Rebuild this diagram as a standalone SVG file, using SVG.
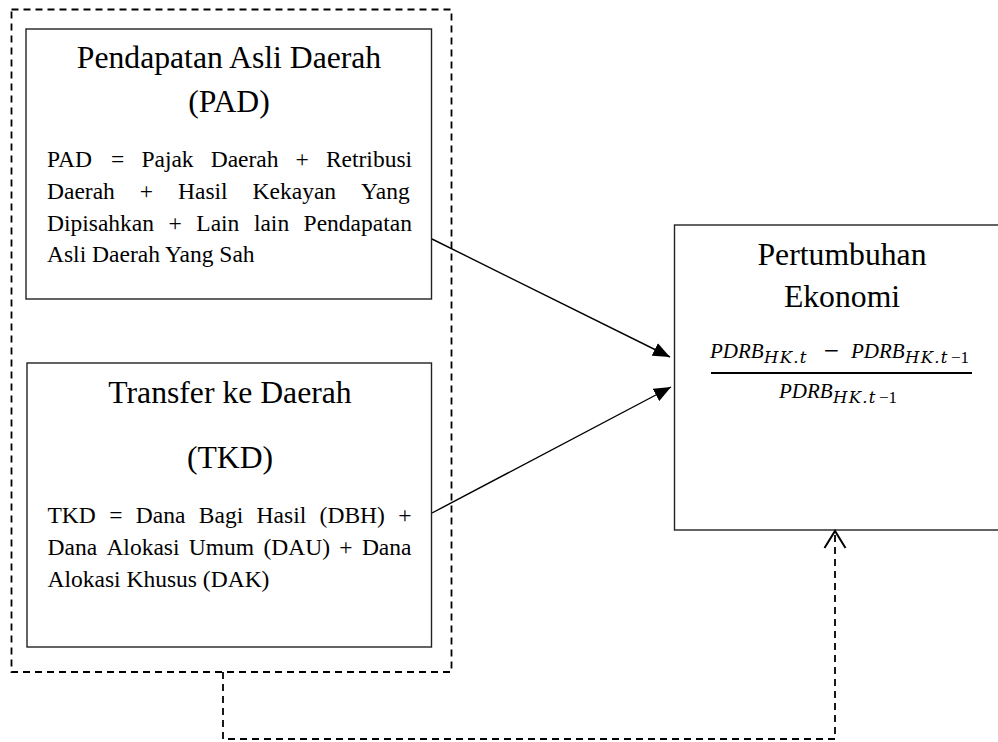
<svg xmlns="http://www.w3.org/2000/svg" width="998" height="742" viewBox="0 0 998 742">
<style>
  .box{fill:#fff;stroke:#222;stroke-width:1.4}
  .dash{fill:none;stroke:#000;stroke-width:1.8;stroke-dasharray:7 5}
  .title{font-family:"Liberation Serif","Times New Roman",serif;font-size:31.7px;fill:#000;text-anchor:middle}
  .body{font-family:"Liberation Serif","Times New Roman",serif;font-size:23.5px;fill:#000}
  .math{font-family:"Liberation Serif","Times New Roman",serif;fill:#000}
  .m{font-family:"Liberation Serif",serif;font-style:italic;font-size:21px}
  .ms{font-family:"DejaVu Serif",serif;font-style:italic;font-size:16.5px;letter-spacing:1.3px}
  .mu{font-family:"Liberation Serif",serif;font-style:normal;font-size:17px}
  .mm{font-family:"DejaVu Serif",serif;font-style:normal;font-size:20px}
  .arrow{fill:none;stroke:#000;stroke-width:1.4}
</style>
<defs>
  <marker id="solidHead" viewBox="0 0 17 14" refX="17" refY="7" markerWidth="17" markerHeight="14" markerUnits="userSpaceOnUse" orient="auto">
    <path d="M0,0 L17,7 L0,14 Z" fill="#000"/>
  </marker>
  <marker id="openHead" viewBox="-1 -1 20 24" refX="17" refY="10.5" markerWidth="20" markerHeight="24" markerUnits="userSpaceOnUse" orient="auto" overflow="visible">
    <path d="M0,0 L17,10.5 L0,21" fill="none" stroke="#000" stroke-width="2" stroke-dasharray="none"/>
  </marker>
</defs>

<rect id="outer-group" class="dash" x="11.5" y="9.5" width="440" height="662.5"/>

<g id="pad">
  <rect class="box" x="26" y="29" width="405.5" height="270"/>
  <text class="title" x="229" y="68">Pendapatan Asli Daerah</text>
  <text class="title" x="229" y="112">(PAD)</text>
  <text class="body" y="167"><tspan x="47">PAD</tspan><tspan x="111.1">=</tspan><tspan x="141.4">Pajak</tspan><tspan x="210.7">Daerah</tspan><tspan x="295.6">+</tspan><tspan x="325.9">Retribusi</tspan></text>
  <text class="body" y="199"><tspan x="47">Daerah</tspan><tspan x="139.8">+</tspan><tspan x="178">Hasil</tspan><tspan x="252.6">Kekayan</tspan><tspan x="361.1">Yang</tspan></text>
  <text class="body" y="230.5"><tspan x="47">Dipisahkan</tspan><tspan x="168.5">+</tspan><tspan x="196.3">Lain</tspan><tspan x="253.9">lain</tspan><tspan x="303.6">Pendapatan</tspan></text>
  <text class="body" x="47" y="262">Asli Daerah Yang Sah</text>
</g>

<g id="tkd">
  <rect class="box" x="27" y="363" width="404.5" height="284"/>
  <text class="title" x="230" y="403">Transfer ke Daerah</text>
  <text class="title" x="230" y="468">(TKD)</text>
  <text class="body" y="523"><tspan x="47.5">TKD</tspan><tspan x="109.2">=</tspan><tspan x="135.8">Dana</tspan><tspan x="198.8">Bagi</tspan><tspan x="256.6">Hasil</tspan><tspan x="319.6">(DBH)</tspan><tspan x="398.3">+</tspan></text>
  <text class="body" y="555"><tspan x="47.5">Dana</tspan><tspan x="106.4">Alokasi</tspan><tspan x="188.8">Umum</tspan><tspan x="263.4">(DAU)</tspan><tspan x="339.3">+</tspan><tspan x="361.9">Dana</tspan></text>
  <text class="body" x="47.5" y="587">Alokasi Khusus (DAK)</text>
</g>

<g id="growth">
  <rect class="box" x="674.5" y="225" width="340" height="305"/>
  <text class="title" x="842" y="265">Pertumbuhan</text>
  <text class="title" x="842" y="307">Ekonomi</text>
  <text class="math" y="358"><tspan class="m" x="710">PDRB</tspan><tspan class="ms" x="764" y="363">HK.t</tspan><tspan class="mm" x="823" y="357">−</tspan><tspan class="m" x="851" y="358">PDRB</tspan><tspan class="ms" x="905" y="363">HK.t</tspan><tspan class="mu" x="951" y="363">−1</tspan></text>
  <line x1="711" y1="373" x2="972" y2="373" stroke="#000" stroke-width="1.8"/>
  <text class="math" y="398"><tspan class="m" x="779">PDRB</tspan><tspan class="ms" x="833" y="403">HK.t</tspan><tspan class="mu" x="879" y="403">−1</tspan></text>
</g>

<g id="connectors">
  <line class="arrow" x1="432" y1="239" x2="670" y2="357" marker-end="url(#solidHead)"/>
  <line class="arrow" x1="432" y1="513" x2="671" y2="387" marker-end="url(#solidHead)"/>
  <path class="dash" d="M223,672 V739 H835 V531" stroke-width="2" marker-end="url(#openHead)"/>
</g>
</svg>
